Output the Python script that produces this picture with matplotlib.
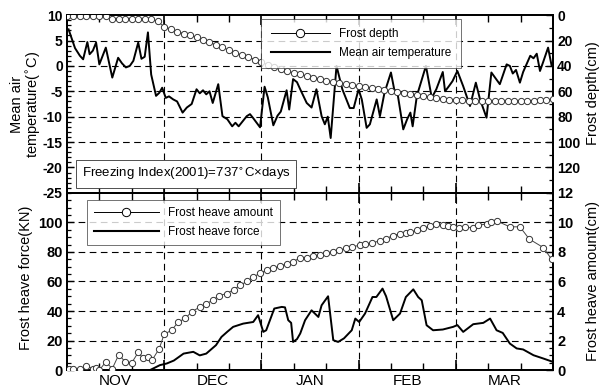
import numpy as np
import matplotlib
matplotlib.use('Agg')
from matplotlib import pyplot as plt
from matplotlib.lines import Line2D
from matplotlib.ticker import MultipleLocator
import matplotlib.transforms as mtransforms

plt.rcParams['font.family'] = ['Liberation Sans', 'DejaVu Sans']
plt.rcParams['axes.unicode_minus'] = False

# x axis: days counted from 1 Nov, each month drawn as 30 days
months = ['NOV', 'DEC', 'JAN', 'FEB', 'MAR']

# mean air temperature (C)
temp_day = [0.5, 2.5, 4, 5, 6.3, 7, 8, 9, 10, 12, 14, 15.8, 17, 18.2, 19.4, 20.5, 22, 23, 24, 25,
            26, 27.5, 28.5, 29.4, 30.5, 31.5, 32.8, 34, 35.7, 37, 38.5, 40, 41, 42, 43, 44, 45, 46.7,
            48, 49.5, 51, 52, 53, 55.5, 56.5, 57.5, 59.6, 61, 62, 63.7, 65, 66, 67.8, 68.6, 69.8,
            71, 72, 74, 75.5, 77, 78.6, 79.6, 80.5, 81.4, 83.2, 85, 87.3, 88.5, 90, 91, 92.5, 93.5,
            95.6, 96.6, 98, 100, 101, 102, 103.8, 105, 106, 106.7, 108, 110.8, 112.6, 114, 116,
            116.7, 118, 119, 120.5, 122.3, 124.4, 126.2, 127.5, 129.5, 131, 133.6, 135.7, 136.7,
            137.6, 138.6, 139.8, 140.8, 143, 144, 145, 146, 147, 148.5, 149.6]
temp_val = [7.2, 3.5, 2.0, 1.3, 4.7, 2.3, 3.0, 4.6, 0.3, 3.6, -2.3, 1.6, 0.5, -0.3, 0.0, 1.0, 4.6, 1.4, 1.8, 6.6,
            -1.7, -5.9, -5.3, -4.3, -6.3, -6.0, -6.6, -7.0, -9.2, -8.2, -7.5, -4.6, -5.4, -4.8, -5.6, -5.0, -7.3, -3.6,
            -9.9, -10.5, -11.9, -11.2, -11.9, -9.9, -9.5, -10.3, -12.1, -4.1, -6.2, -11.7, -9.8, -9.0, -4.8, -8.6, -2.6,
            -3.2, -4.6, -7.3, -8.2, -4.6, -9.9, -11.5, -10.0, -14.2, 0.0, -4.6, -8.3, -8.3, -4.6, -6.6, -12.2, -11.5,
            -6.6, -9.9, -5.3, -1.3, -4.6, -5.3, -12.5, -10.5, -9.2, -11.9, -5.9, 0.0, -6.3, -4.6, -1.2,
            -5.0, -3.9, -3.0, -1.0, -4.0, -7.9, -3.3, -6.6, -10.2, -1.3, -3.6, 0.3, 0.0,
            -1.5, -0.8, -3.3, -1.2, 2.0, 1.5, 2.4, -1.0, 0.8, 3.6, 0.0]

# frost depth (cm), read every 2 days
depth_day = np.arange(0, 151, 2)
depth_val = [1, 1, 1, 1, 1, 1, 1, 3, 3, 3, 3, 3, 3, 3, 5, 9, 11, 13, 14.5, 16,
             17.5, 19.5, 21.5, 23.5, 25.5, 27.5, 29.5, 31.5, 33, 35, 37, 39, 40.5, 42.5, 44, 45.5,
             46.5, 48, 49.3, 50.5, 51.5, 52.5, 53.5, 54.3, 55, 56, 56.5, 57.3, 58, 58.7, 59.5,
             60.8, 61.5, 62.3, 63, 63.8, 64.5, 65.3, 66, 66.5, 67, 67.2, 67.5, 67.7, 67.8, 67.8,
             67.8, 67.8, 67.8, 67.8, 67.8, 67.6, 67.3, 67, 66.6, 66.4]

# frost heave amount (cm)
heave_day = [0.5, 2, 4, 6, 8, 9, 10, 12, 14, 16, 18, 20, 22, 23.5, 25, 26.4, 28.5, 30, 32.3, 34.4,
             36.5, 38.5, 41, 43, 45, 47, 49.3, 51.5, 53.4, 55.5, 57.5, 59.5, 61.6, 63.5, 65.7, 67.8,
             69.8, 72, 74, 76, 78, 80, 82, 84, 86, 88, 90.4, 92, 94, 96.6, 98.5, 100.5, 102.8, 104.5,
             106, 108, 110, 112, 114, 116, 117.5, 119, 121, 123, 125.4, 127, 129.5, 131, 132.6,
             136.7, 139.8, 142.7, 147, 149.6]
heave_val = [0.05, 0.1, 0.05, 0.3, 0.1, 0.15, 0.0, 0.56, 0.1, 1.05, 0.56, 0.5, 1.2, 0.8, 0.9, 0.72, 1.46, 2.43, 2.7, 3.27,
             3.5, 3.94, 4.28, 4.5, 4.73, 5.05, 5.18, 5.45, 5.74, 6.0, 6.3, 6.55, 6.76, 6.9, 7.03, 7.2,
             7.35, 7.6, 7.6, 7.7, 7.8, 7.9, 8.0, 8.1, 8.25, 8.35, 8.45, 8.55, 8.6, 8.75, 8.9, 9.1, 9.24, 9.3,
             9.35, 9.46, 9.6, 9.75, 9.86, 9.8, 9.75, 9.68, 9.65, 9.7, 9.6, 9.8, 9.9, 10.0, 10.1,
             9.7, 9.7, 8.87, 8.3, 7.5]

# frost heave force (KN)
force_day = [25.6, 28.7, 30.8, 33, 36, 39, 41, 43, 46, 47.7, 49.5, 51.3, 54.4, 57.5, 59, 60.6, 61.5,
             64, 66.3, 67.3, 68.3, 69.2, 69.8, 71, 72, 73.5, 75.5, 77.6, 78.6, 80.6, 82.2, 83.7, 85.5,
             87.9, 89, 90.2, 92, 94.3, 95.5, 97.4, 98.5, 100.7, 102.8, 104.6, 106.9, 108.4, 109.5,
             111, 113, 116, 119.2, 120.5, 122.3, 125.4, 128.5, 130.6, 132.6, 134.5, 136.7, 138.8,
             140.8, 144, 147, 150]
force_val = [0, 3.4, 4.5, 6.5, 11.2, 12.4, 10, 11.2, 16.9, 22.5, 26, 29.3, 31.5, 32.6, 37.2, 25.9, 27,
             41.7, 42.8, 42.5, 33.8, 32, 19.1, 21, 24.8, 33.8, 40.5, 36, 43.9, 50, 20.3, 19.1, 21.5,
             27, 34.9, 32.6, 38.3, 49.5, 49.5, 55.2, 50, 33.8, 38.3, 49.5, 54.7, 49.5, 47.3,
             30.4, 27, 27.5, 29.3, 30.5, 25.9, 31.1, 32, 34.9, 27, 25.2, 18, 14.7,
             14, 10.1, 7.9, 5.6]

fig = plt.figure(figsize=(6.03, 3.88), dpi=100)
ax1 = fig.add_axes([0.111, 0.503, 0.806, 0.458])
ax2 = fig.add_axes([0.111, 0.046, 0.806, 0.457])
ax1r = ax1.twinx()
ax2r = ax2.twinx()

dash = dict(color='k', linestyle=(0, (6, 4)), linewidth=0.8, zorder=0)

for ax in (ax1, ax2):
    ax.set_xlim(0, 150)
    ax.xaxis.set_major_locator(MultipleLocator(30))
    ax.xaxis.set_minor_locator(MultipleLocator(10))
    for m in range(30, 150, 30):
        ax.axvline(m, **dash)

# ---- top panel
ax1.set_ylim(-25, 10)
ax1.yaxis.set_major_locator(MultipleLocator(5))
ax1.yaxis.set_minor_locator(MultipleLocator(1))
for v in range(-20, 10, 5):
    ax1.axhline(v, **dash)
ax1.plot(temp_day, temp_val, color='k', linewidth=1.4, zorder=3)

ax1r.set_ylim(140, 0)
ax1r.set_yticks(range(0, 121, 20))
ax1r.yaxis.set_minor_locator(MultipleLocator(10))
ax1r.plot(depth_day, depth_val, color='#444444', linewidth=0.7, marker='o', markersize=4.5,
          markerfacecolor='white', markeredgecolor='#333333', markeredgewidth=0.7, zorder=3)

ax1.set_ylabel('Mean air\ntemperature($^{\\circ}$C)', fontsize=10.5, linespacing=1.0)
ax1.yaxis.set_label_coords(-0.05, 0.5)
ax1r.set_ylabel('Frost depth(cm)', fontsize=10.5)
ax1r.yaxis.set_label_coords(1.068, 0.56)

ax1.text(0.03, 0.06, 'Freezing Index(2001)=737$^{\\circ}$C\u00d7days', transform=ax1.transAxes,
         fontsize=9.5, va='bottom', ha='left',
         bbox=dict(boxstyle='square,pad=0.45', facecolor='white', edgecolor='#333333', linewidth=0.6))

h1 = [Line2D([], [], color='k', linewidth=0.7, marker='o', markersize=6,
             markerfacecolor='white', markeredgecolor='k', markeredgewidth=0.7),
      Line2D([], [], color='k', linewidth=1.5)]
leg1 = ax1r.legend(h1, ['Frost depth', 'Mean air temperature'], loc='upper left',
                   bbox_to_anchor=(0.40, 0.978), fontsize=8.5, frameon=True, fancybox=False,
                   handlelength=5.0, borderpad=0.8, labelspacing=0.55, borderaxespad=0)
leg1.get_frame().set_edgecolor('#333333')
leg1.get_frame().set_linewidth(0.6)

# ---- bottom panel
ax2.set_ylim(0, 120)
ax2.set_yticks(range(0, 101, 20))
ax2.yaxis.set_minor_locator(MultipleLocator(5))
for v in range(20, 101, 20):
    ax2.axhline(v, **dash)
ax2.plot(force_day, force_val, color='k', linewidth=1.4, zorder=3)

ax2r.set_ylim(0, 12)
ax2r.set_yticks(range(0, 13, 2))
ax2r.yaxis.set_minor_locator(MultipleLocator(0.5))
ax2r.plot(heave_day, heave_val, color='#444444', linewidth=0.7, marker='o', markersize=4.5,
          markerfacecolor='white', markeredgecolor='#333333', markeredgewidth=0.7, zorder=3)

ax2.set_ylabel('Frost heave force(KN)', fontsize=10.5)
ax2.yaxis.set_label_coords(-0.07, 0.52)
ax2r.set_ylabel('Frost heave amount(cm)', fontsize=10.5)
ax2r.yaxis.set_label_coords(1.068, 0.5)

h2 = [Line2D([], [], color='k', linewidth=0.7, marker='o', markersize=6,
             markerfacecolor='white', markeredgecolor='k', markeredgewidth=0.7),
      Line2D([], [], color='k', linewidth=1.5)]
leg2 = ax2r.legend(h2, ['Frost heave amount', 'Frost heave force'], loc='upper left',
                   bbox_to_anchor=(0.041, 0.96), fontsize=8.5, frameon=True, fancybox=False,
                   handlelength=5.5, borderpad=0.6, labelspacing=0.6, borderaxespad=0)
leg2.get_frame().set_edgecolor('#333333')
leg2.get_frame().set_linewidth(0.6)

# month names under the axis
trans = mtransforms.blended_transform_factory(ax2.transData, ax2.transAxes)
for i, m in enumerate(months):
    ax2.text(15 + 30 * i, -0.02, m, transform=trans, ha='center', va='top', fontsize=11)

# ticks and spines
for ax in (ax1, ax2):
    ax.tick_params(axis='x', which='both', direction='in', top=True, bottom=True, labelbottom=False)
    ax.tick_params(axis='x', which='major', length=7, width=1.2)
    ax.tick_params(axis='x', which='minor', length=5, width=1.0)
for ax in (ax1, ax2, ax1r, ax2r):
    ax.tick_params(axis='y', which='major', direction='in', length=5, width=1.0, pad=3)
    ax.tick_params(axis='y', which='minor', direction='in', length=3, width=0.9)
    for s in ax.spines.values():
        s.set_linewidth(1.3)

for ax in (ax1, ax1r):
    for lab in ax.get_yticklabels():
        lab.set_fontweight('bold')
        lab.set_fontsize(10)
for ax in (ax2, ax2r):
    for lab in ax.get_yticklabels():
        lab.set_fontweight('bold')
        lab.set_fontsize(10.5)

ax1r.set_zorder(ax1.get_zorder() + 1)
ax2r.set_zorder(ax2.get_zorder() + 1)

plt.savefig('out.png', dpi=100)
